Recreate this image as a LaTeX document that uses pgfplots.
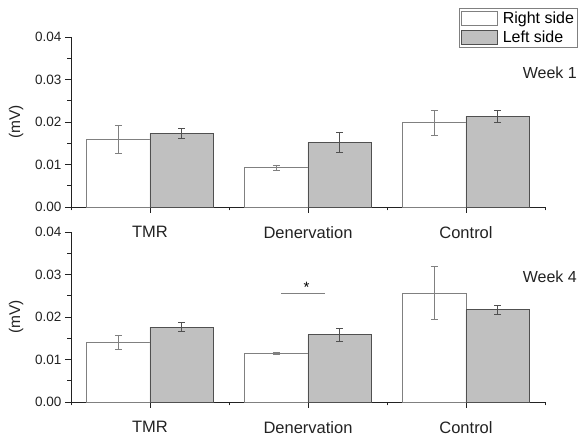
\documentclass[border=0pt]{standalone}
\usepackage{pgfplots}
\pgfplotsset{compat=1.18}
\usepackage{fontspec}
\setmainfont{Liberation Sans}
\definecolor{barfill}{HTML}{C0C0C0}
\definecolor{edgeA}{HTML}{808080}
\definecolor{edgeB}{HTML}{505050}
\definecolor{axcol}{HTML}{222222}
\begin{document}
\begin{tikzpicture}[x=1pt,y=1pt]
\pgfplotsset{
  myaxis/.style={
    scale only axis, width=474pt, height=170pt,
    anchor=south west,
    xmin=-0.5, xmax=2.5, ymin=0, ymax=0.04,
    axis x line=bottom, axis y line=left,
    axis line style={-, draw=axcol, line width=0.8pt},
    xtick={0,1,2}, xticklabels={TMR,Denervation,Control},
    minor xtick={-0.5,0.5,1.5,2.5},
    ytick={0,0.01,0.02,0.03,0.04},
    minor ytick={0.005,0.015,0.025,0.035},
    tick align=outside,
    major tick length=6pt, minor tick length=3.5pt,
    every tick/.style={axcol, line width=0.8pt},
    scaled y ticks=false,
    /pgf/number format/assume math mode=true,
    yticklabel style={/pgf/number format/.cd, fixed, fixed zerofill, precision=2, /tikz/.cd, font=\fontsize{13.5}{15}\selectfont, text=axcol},
    xticklabel style={font=\fontsize{16.5}{18}\selectfont, text=axcol, yshift=-10pt},
    ylabel={(mV)},
    ylabel style={font=\fontsize{15.5}{17}\selectfont, at={(axis description cs:-0.116,0.5)}, anchor=center, text=axcol},
    clip=false,
  },
  rightbar/.style={ybar, bar width=0.4, bar shift=0, fill=white, draw=edgeA, line width=0.9pt,
    legend image code/.code={\draw[##1] (0pt,-7pt) rectangle (36pt,7pt);},
    error bars/.cd, y dir=both, y explicit,
    error bar style={edgeA, line width=0.8pt},
    error mark options={rotate=90, edgeA, mark size=3.5pt, line width=0.8pt}},
  leftbar/.style={ybar, bar width=0.4, bar shift=0, fill=barfill, draw=edgeB, line width=0.9pt,
    legend image code/.code={\draw[##1] (0pt,-7pt) rectangle (36pt,7pt);},
    error bars/.cd, y dir=both, y explicit,
    error bar style={edgeB, line width=0.8pt},
    error mark options={rotate=90, edgeB, mark size=3.5pt, line width=0.8pt}},
}
% Week 1
\begin{axis}[myaxis, at={(71pt,231pt)},
  legend style={at={(axis description cs:0.8186,1.1706)}, anchor=north west, draw=edgeA, fill=white,
    font=\fontsize{16}{18}\selectfont, inner sep=1.5pt, row sep=2pt, legend cell align=left, line width=0.8pt},
]
\addplot[rightbar] coordinates {(-0.2,0.0158) +- (0,0.0033) (0.8,0.0093) +- (0,0.0006) (1.8,0.0198) +- (0,0.0030)};
\addlegendentry{\hspace{3pt}Right side}
\addplot[leftbar] coordinates {(0.2,0.0173) +- (0,0.0011) (1.2,0.0152) +- (0,0.0023) (2.2,0.0213) +- (0,0.0015)};
\addlegendentry{\hspace{3pt}Left side}
\end{axis}
% Week 4
\begin{axis}[myaxis, at={(71pt,36pt)}]
\addplot[rightbar] coordinates {(-0.2,0.0140) +- (0,0.0016) (0.8,0.0114) +- (0,0.0003) (1.8,0.0256) +- (0,0.0062)};
\addplot[leftbar] coordinates {(0.2,0.0176) +- (0,0.0011) (1.2,0.0158) +- (0,0.0016) (2.2,0.0217) +- (0,0.0011)};
\addplot[gray, line width=0.8pt, mark=none] coordinates {(0.83,0.0256) (1.11,0.0256)};
\node[anchor=base, font=\fontsize{15}{17}\selectfont, inner sep=0pt] at (axis cs:0.99,0.0257) {*};
\end{axis}
\node[anchor=east, font=\fontsize{16}{18}\selectfont, text=axcol, inner sep=0pt] at (577pt,365pt) {Week 1};
\node[anchor=east, font=\fontsize{16}{18}\selectfont, text=axcol, inner sep=0pt] at (577pt,161pt) {Week 4};
\pgfresetboundingbox
\useasboundingbox (0pt,0pt) rectangle (579pt,438pt);
\end{tikzpicture}
\end{document}
